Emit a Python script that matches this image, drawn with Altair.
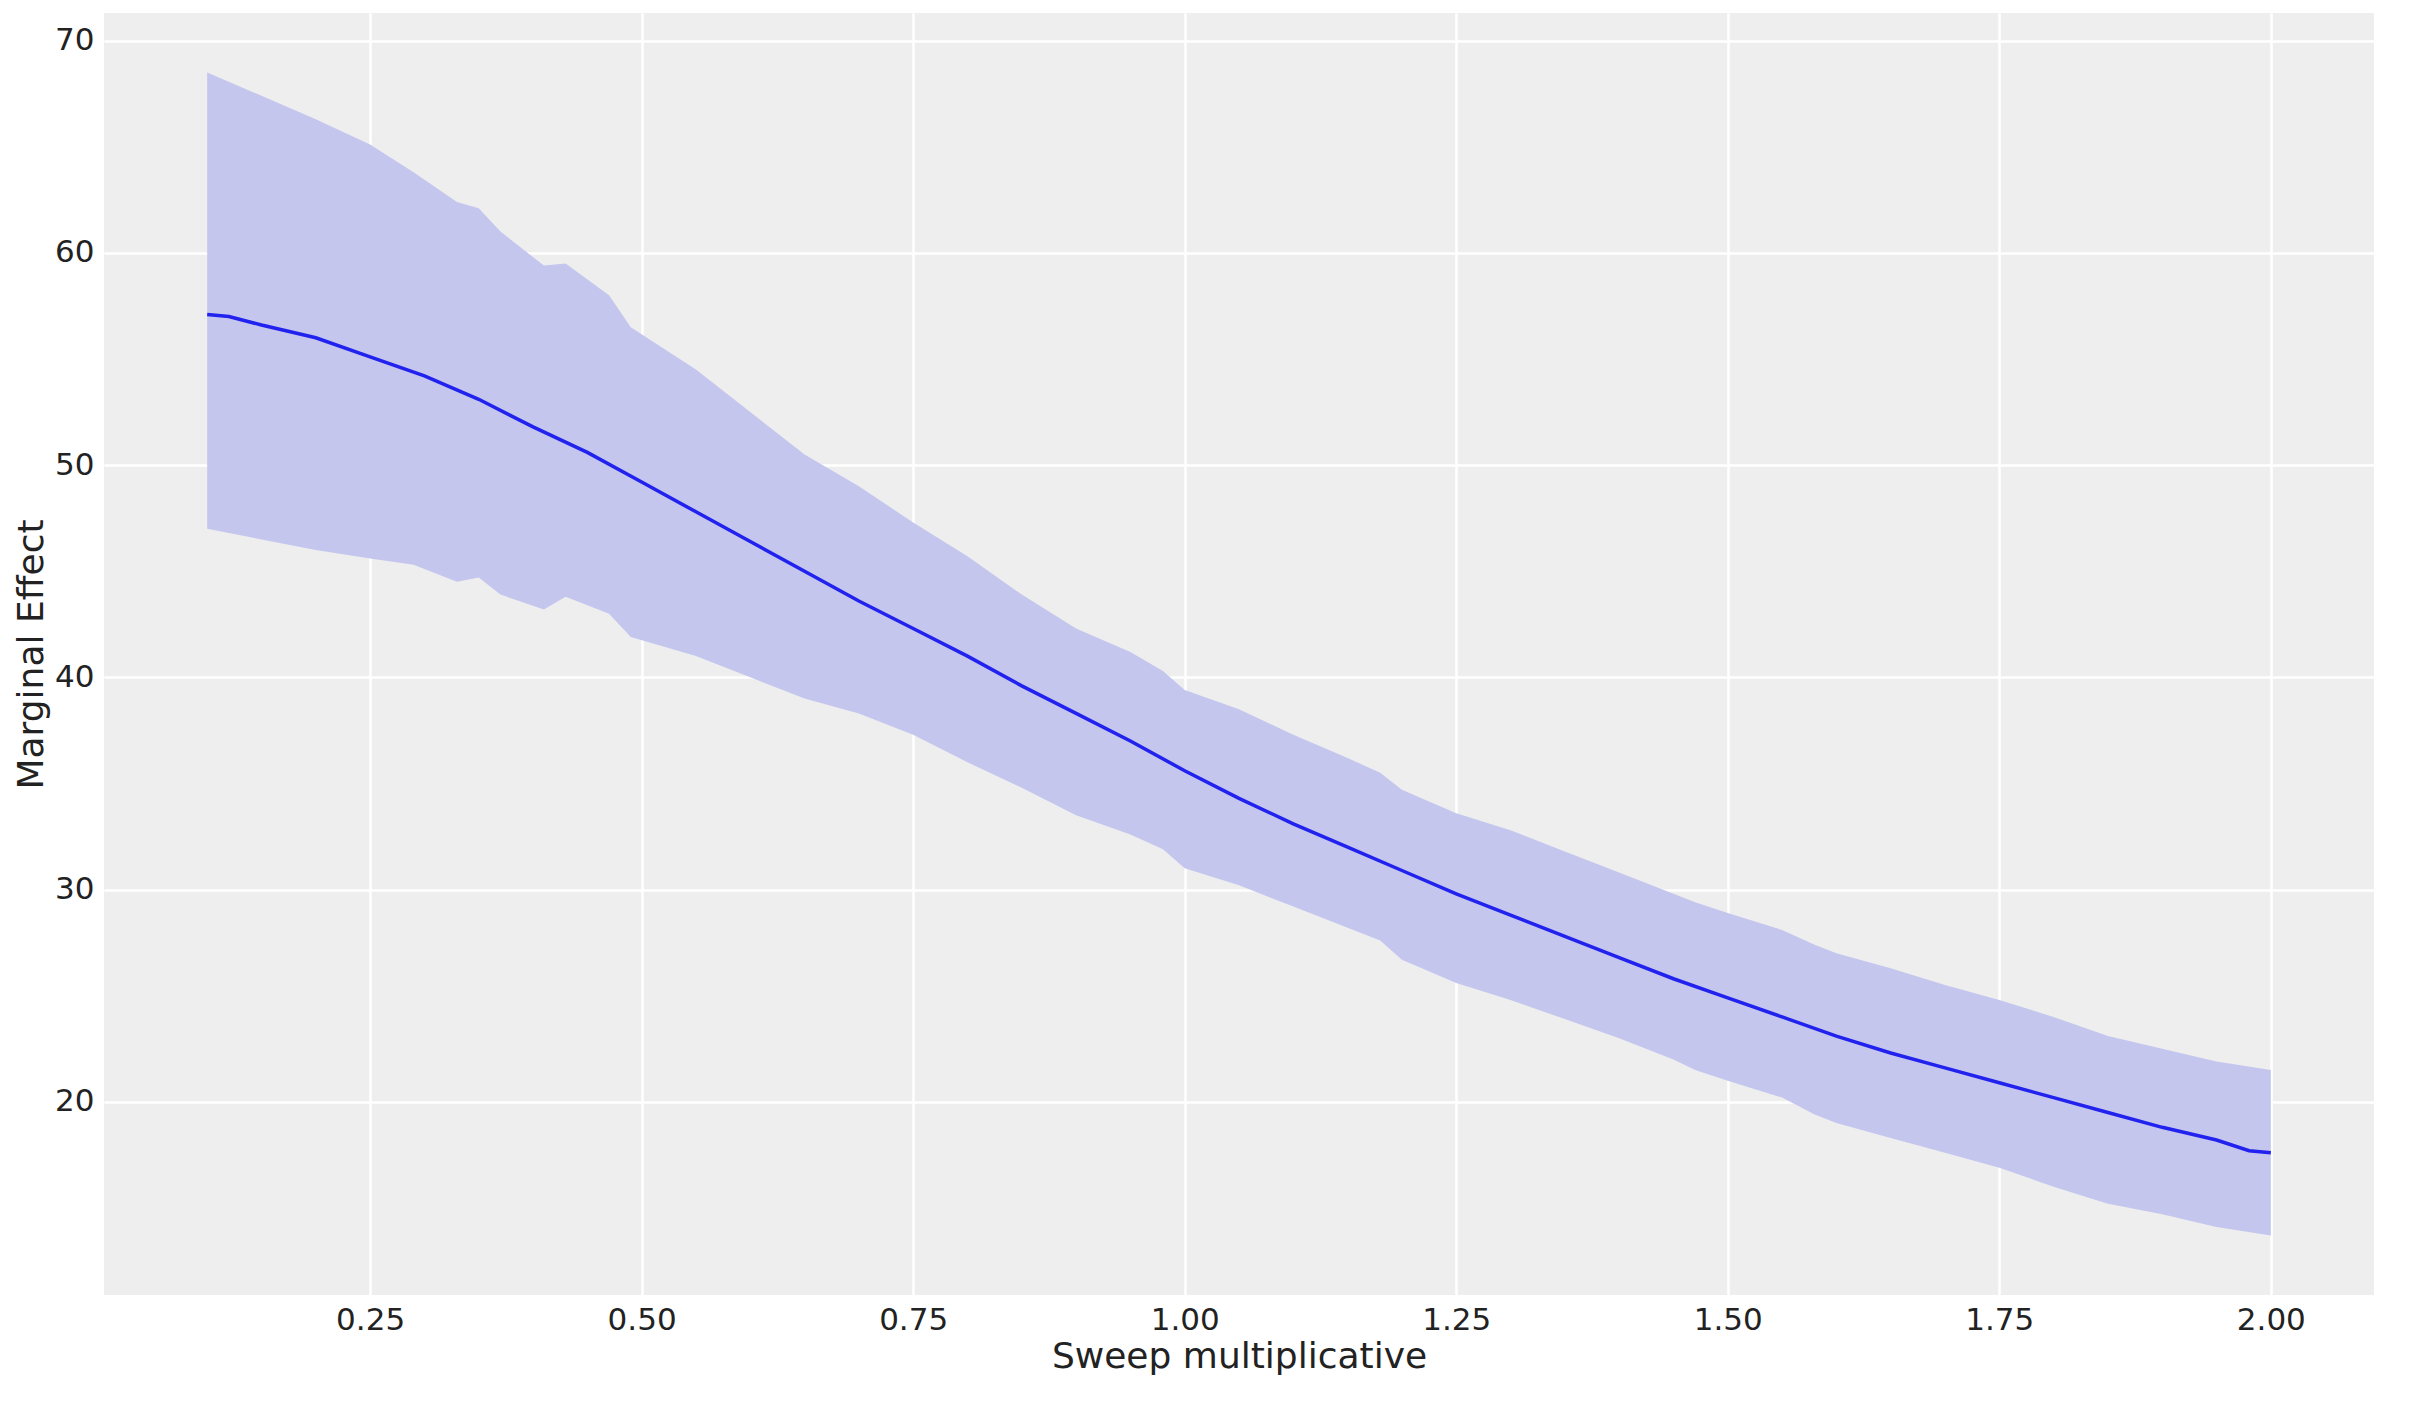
import altair as alt
import pandas as pd

line_x = [0.1,0.12,0.15,0.2,0.25,0.3,0.35,0.4,0.45,0.5,0.55,0.6,0.65,0.7,0.75,0.8,0.85,0.9,0.95,1.0,
          1.05,1.1,1.15,1.2,1.25,1.3,1.35,1.4,1.45,1.5,1.55,1.6,1.65,1.7,1.75,1.8,1.85,1.9,1.95,1.98,2.0]
mean = [57.1,57.0,56.6,56.0,55.1,54.2,53.1,51.8,50.6,49.2,47.8,46.4,45.0,43.6,42.3,41.0,39.6,38.3,37.0,35.6,
        34.3,33.1,32.0,30.9,29.8,28.8,27.8,26.8,25.8,24.9,24.0,23.1,22.3,21.6,20.9,20.2,19.5,18.8,18.2,17.7,17.6]

band_x = [0.1,0.15,0.2,0.25,0.29,0.33,0.35,0.37,0.41,0.43,0.47,0.49,0.55,0.6,0.65,0.7,0.75,0.8,0.85,0.9,0.95,
          0.98,1.0,1.05,1.1,1.15,1.18,1.2,1.25,1.3,1.35,1.4,1.45,1.47,1.5,1.55,1.58,1.6,1.65,1.7,1.75,1.8,1.85,1.9,1.95,2.0]
upper = [68.5,67.4,66.3,65.1,63.8,62.4,62.1,61.0,59.4,59.5,58.0,56.5,54.5,52.5,50.5,49.0,47.3,45.7,43.9,42.3,41.2,
         40.3,39.4,38.5,37.3,36.2,35.5,34.7,33.6,32.8,31.8,30.8,29.8,29.4,28.9,28.1,27.4,27.0,26.3,25.5,24.8,24.0,23.1,22.5,21.9,21.5]
lower = [47.0,46.5,46.0,45.6,45.3,44.5,44.7,43.9,43.2,43.8,43.0,41.9,41.0,40.0,39.0,38.3,37.3,36.0,34.8,33.5,32.6,
         31.9,31.0,30.2,29.2,28.2,27.6,26.7,25.6,24.8,23.9,23.0,22.0,21.5,21.0,20.2,19.4,19.0,18.3,17.6,16.9,16.0,15.2,14.7,14.1,13.7]

ldf = pd.DataFrame({"x": line_x, "y": mean})
bdf = pd.DataFrame({"x": band_x, "lo": lower, "hi": upper})

xs = alt.Scale(domain=[0.005, 2.095], nice=False, zero=False)
ys = alt.Scale(domain=[10.9, 71.3], nice=False, zero=False)

band = alt.Chart(bdf).mark_area(color="#c4c6ee", opacity=1).encode(
    x=alt.X("x:Q", scale=xs, title="Sweep multiplicative",
            axis=alt.Axis(values=[0.25,0.5,0.75,1.0,1.25,1.5,1.75,2.0], format=".2f")),
    y=alt.Y("lo:Q", scale=ys, title="Marginal Effect", axis=alt.Axis(values=[20,30,40,50,60,70])),
    y2="hi:Q")
line = alt.Chart(ldf).mark_line(color="#2222ee", strokeWidth=3.5).encode(
    x=alt.X("x:Q", scale=xs), y=alt.Y("y:Q", scale=ys))

chart = (band + line).properties(
    width=2270, height=1282, background="white"
).configure_view(fill="#eeeeee", stroke=None).configure_axis(
    grid=True, gridColor="white", gridWidth=2.5, domain=False, ticks=False,
    labelFont="DejaVu Sans", titleFont="DejaVu Sans", labelFontSize=31, titleFontSize=36,
    titleFontWeight="normal", labelColor="#222222", titleColor="#222222", labelPadding=10
)

chart.save("out.html", embed_options={"renderer": "svg", "actions": False})
